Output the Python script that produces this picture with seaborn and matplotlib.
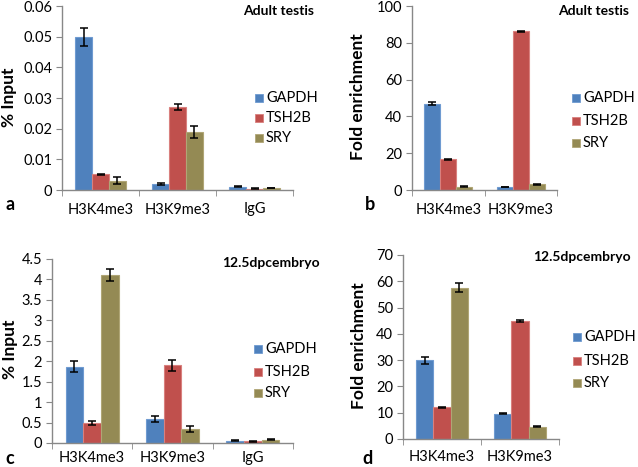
import numpy as np
import pandas as pd
import matplotlib
matplotlib.use("Agg")
import matplotlib.pyplot as plt
import seaborn as sns

# data
genes = ["GAPDH", "TSH2B", "SRY"]
marks_3 = ["H3K4me3", "H3K9me3", "IgG"]
marks_2 = ["H3K4me3", "H3K9me3"]

# a: adult testis, % input
a_vals = {"GAPDH": [0.0498, 0.0019, 0.0011],
          "TSH2B": [0.0051, 0.0271, 0.0004],
          "SRY": [0.0030, 0.0190, 0.0007]}
a_err = {"GAPDH": [0.0030, 0.0003, 0.0001],
         "TSH2B": [0.0002, 0.0009, 0.0001],
         "SRY": [0.0011, 0.0019, 0.0001]}

# b: adult testis, fold enrichment
b_vals = {"GAPDH": [47.0, 1.7],
          "TSH2B": [16.8, 86.2],
          "SRY": [1.7, 3.2]}
b_err = {"GAPDH": [0.8, 0.2],
         "TSH2B": [0.3, 0.3],
         "SRY": [0.3, 0.3]}

# c: 12.5dpc embryo, % input
c_vals = {"GAPDH": [1.87, 0.59, 0.06],
          "TSH2B": [0.50, 1.90, 0.04],
          "SRY": [4.10, 0.35, 0.08]}
c_err = {"GAPDH": [0.13, 0.07, 0.01],
         "TSH2B": [0.05, 0.13, 0.01],
         "SRY": [0.15, 0.07, 0.01]}

# d: 12.5dpc embryo, fold enrichment
d_vals = {"GAPDH": [30.0, 9.6],
          "TSH2B": [12.0, 45.0],
          "SRY": [57.5, 4.7]}
d_err = {"GAPDH": [1.3, 0.2],
         "TSH2B": [0.2, 0.4],
         "SRY": [1.7, 0.3]}

colors = ["#4F81BD", "#C0504D", "#948A54"]
edges = ["#6F9BD1", "#D9807E", "#B0A676"]

plt.rcParams["font.family"] = ["Lato", "DejaVu Sans"]

W, H = 638, 467
fig = plt.figure(figsize=(W / 100, H / 100), dpi=100)


def px_axes(left, top, right, bottom):
    return fig.add_axes([left / W, 1 - bottom / H, (right - left) / W, (bottom - top) / H])


def panel(ax, marks, vals, errs, ymax, ystep, fmt, xpad, ylabel, ylab_xy, title, title_xy,
          leg_x, leg_ys):
    rows = []
    for g in genes:
        for m, v, e in zip(marks, vals[g], errs[g]):
            rows.append({"mark": m, "gene": g, "value": v, "err": e})
    df = pd.DataFrame(rows)
    sns.barplot(data=df, x="mark", y="value", hue="gene", order=marks, hue_order=genes,
                palette=colors, width=0.66, errorbar=None, ax=ax, legend=False,
                linewidth=0.8, saturation=1)
    # error bars at bar centres, bars come in hue order then category order
    for patch, (_, r) in zip(ax.patches, df.iterrows()):
        patch.set_edgecolor(edges[genes.index(r["gene"])])
        cx = patch.get_x() + patch.get_width() / 2
        ax.errorbar(cx, r["value"], yerr=r["err"], color="black", capsize=3.2,
                    elinewidth=1.1, capthick=1.1, zorder=5)
    n = len(marks)
    ax.set_xlim(-0.5, n - 0.5)
    ax.set_ylim(0, ymax)
    ticks = np.arange(0, ymax + ystep / 2, ystep)
    ax.set_yticks(ticks)
    ax.set_yticklabels([fmt(t) for t in ticks], fontsize=10.5)
    ax.set_xticks(range(n))
    ax.set_xticklabels(marks, fontsize=10.5)
    ax.tick_params(axis="x", length=0, pad=xpad)
    ax.set_xticks(np.arange(-0.5, n), minor=True)
    ax.tick_params(axis="x", which="minor", length=4, color="#888888")
    ax.tick_params(axis="y", length=4, color="#888888", pad=3)
    for s in ["top", "right"]:
        ax.spines[s].set_visible(False)
    for s in ["left", "bottom"]:
        ax.spines[s].set_color("#888888")
        ax.spines[s].set_linewidth(1.0)
    ax.set_xlabel("")
    ax.set_ylabel("")
    ax.set_facecolor("none")
    fig.text(ylab_xy[0] / W, 1 - ylab_xy[1] / H, ylabel, fontsize=12.5, fontweight="bold",
             rotation=90, ha="center", va="center")
    fig.text(title_xy[0] / W, 1 - title_xy[1] / H, title, fontsize=10,
             fontweight="bold", va="center", ha="left")
    for k, g in enumerate(genes):
        y = leg_ys[k]
        fig.patches.append(plt.Rectangle((leg_x / W, 1 - (y + 4) / H), 8 / W, 8 / H,
                                         transform=fig.transFigure, facecolor=colors[k],
                                         edgecolor=edges[k], linewidth=0.6))
        fig.text((leg_x + 11) / W, 1 - y / H, g, fontsize=10.5, va="center", ha="left")


def pct(t):
    return "0" if t == 0 else ("%g" % round(t, 3))


def intfmt(t):
    return "%d" % round(t)


ax_a = px_axes(62, 6, 293, 190)
panel(ax_a, marks_3, a_vals, a_err, 0.06, 0.01, pct, 9, "% Input", (9, 97),
      "Adult testis", (243, 11), 255, [98, 118, 138])

ax_b = px_axes(412, 6, 557, 190)
panel(ax_b, marks_2, b_vals, b_err, 100, 20, intfmt, 9, "Fold enrichment", (358, 97),
      "Adult testis", (558, 11), 572, [98, 121, 143])

ax_c = px_axes(52, 259, 293, 443)
panel(ax_c, marks_3, c_vals, c_err, 4.5, 0.5, pct, 5.5, "% Input", (10, 349),
      "12.5dpcembryo", (222, 263), 254, [349, 372, 393])

ax_d = px_axes(403, 255, 559, 439)
panel(ax_d, marks_2, d_vals, d_err, 70, 10, intfmt, 8, "Fold enrichment", (359, 346),
      "12.5dpcembryo", (533, 257), 573, [337, 361, 383])

for lab, x, y in [("a", 6, 205), ("b", 365, 205), ("c", 5, 458), ("d", 362, 458)]:
    fig.text(x / W, 1 - y / H, lab, fontsize=13, fontweight="bold", va="center", ha="left")

fig.savefig("out.png", dpi=100)
